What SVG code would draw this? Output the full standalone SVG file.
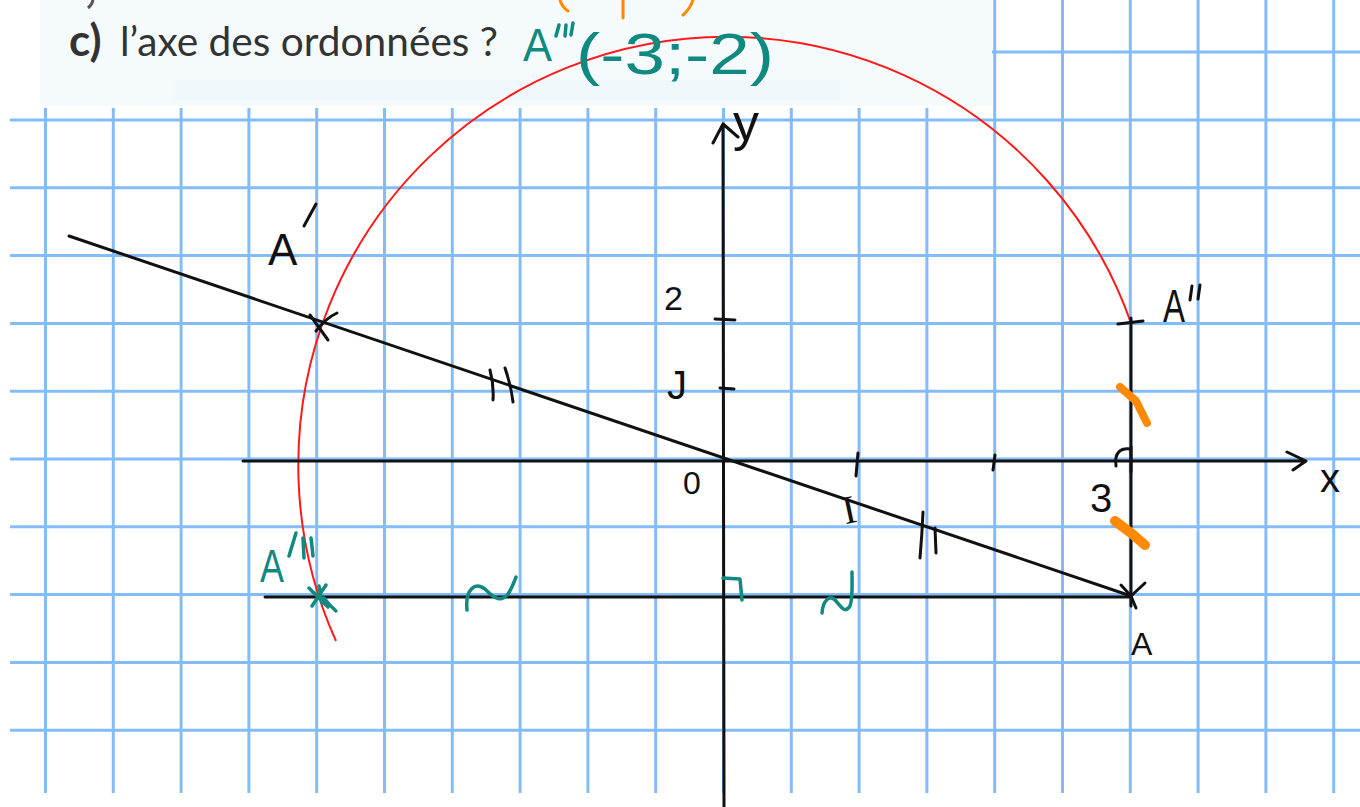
<svg xmlns="http://www.w3.org/2000/svg" width="1360" height="807" viewBox="0 0 1360 807">
<style>
.grid line{stroke:#84bcfa;stroke-width:3}
.ink{fill:none;stroke:#111;stroke-width:3;stroke-linecap:round;stroke-linejoin:round}
.teal{fill:none;stroke:#108a80;stroke-width:3.5;stroke-linecap:round;stroke-linejoin:round}
.orange{fill:none;stroke:#ff8a00;stroke-linecap:round;stroke-linejoin:round}
.hw{font-family:"Liberation Sans",Arial,sans-serif;fill:#111}
.hwt{font-family:"Liberation Sans",Arial,sans-serif;fill:#108a80}
.book{font-family:Lato,"Liberation Sans",sans-serif;fill:#333}
</style>
<rect width="1360" height="807" fill="#ffffff"/>
<g id="header">
<rect x="40" y="0" width="952" height="106" fill="#f5fbfd"/>
<rect x="175" y="80" width="665" height="20" fill="#eef7fa" opacity="0.6"/>
<path d="M93,0 Q92,5 88,8" fill="none" stroke="#555" stroke-width="3"/>
<text class="book" x="69" y="56" font-size="44" font-weight="bold">c)</text>
<text class="book" x="120" y="56" font-size="41" textLength="378" lengthAdjust="spacingAndGlyphs">l’axe des ordonnées ?</text>
</g>
<g class="grid" id="grid">
<line x1="45.5" y1="108" x2="45.5" y2="793"/>
<line x1="113.3" y1="108" x2="113.3" y2="793"/>
<line x1="181.1" y1="108" x2="181.1" y2="793"/>
<line x1="248.9" y1="108" x2="248.9" y2="793"/>
<line x1="316.7" y1="108" x2="316.7" y2="793"/>
<line x1="384.5" y1="108" x2="384.5" y2="793"/>
<line x1="452.3" y1="108" x2="452.3" y2="793"/>
<line x1="520.1" y1="108" x2="520.1" y2="793"/>
<line x1="587.9" y1="108" x2="587.9" y2="793"/>
<line x1="655.7" y1="108" x2="655.7" y2="793"/>
<line x1="723.5" y1="108" x2="723.5" y2="793"/>
<line x1="791.3" y1="108" x2="791.3" y2="793"/>
<line x1="859.1" y1="108" x2="859.1" y2="793"/>
<line x1="926.9" y1="108" x2="926.9" y2="793"/>
<line x1="994.7" y1="0" x2="994.7" y2="793"/>
<line x1="1062.5" y1="0" x2="1062.5" y2="793"/>
<line x1="1130.3" y1="0" x2="1130.3" y2="793"/>
<line x1="1198.1" y1="0" x2="1198.1" y2="793"/>
<line x1="1265.9" y1="0" x2="1265.9" y2="793"/>
<line x1="1333.7" y1="0" x2="1333.7" y2="793"/>
<line x1="992" y1="52" x2="1360" y2="52"/>
<line x1="10" y1="120" x2="1360" y2="120"/>
<line x1="10" y1="187.8" x2="1360" y2="187.8"/>
<line x1="10" y1="255.6" x2="1360" y2="255.6"/>
<line x1="10" y1="323.4" x2="1360" y2="323.4"/>
<line x1="10" y1="391.2" x2="1360" y2="391.2"/>
<line x1="10" y1="459" x2="1360" y2="459"/>
<line x1="10" y1="526.8" x2="1360" y2="526.8"/>
<line x1="10" y1="594.6" x2="1360" y2="594.6"/>
<line x1="10" y1="662.4" x2="1360" y2="662.4"/>
<line x1="10" y1="730.2" x2="1360" y2="730.2"/>
</g>
<g id="connectors">
<path id="arc" d="M1131,323 A428.5,428.5 0 1 0 336,641" fill="none" stroke="#ff1a1a" stroke-width="2"/>
<path class="ink" d="M69,236 L1131,596"/>
<path class="ink" d="M265,597 L1131,597"/>
<path class="ink" d="M1131,318 L1131,606"/>
<path class="ink" d="M243,461 L1306,461 M1287,452 L1306,461 L1293,470"/>
<path class="ink" d="M724,807 L723,124 M713,143 L723,124 L738,137"/>
</g>
<g id="axis-marks">
<path class="ink" d="M715,319 L735,320 M720,388 L734,389 M858,453 L856,476 M995,455 L993,470"/>
<path class="ink" d="M1116,466 C1114,452 1121,448 1130,449 M1131,447 L1131,472" stroke-width="4"/>
<text class="hw" x="664" y="310" font-size="34">2</text>
<text class="hw" x="667" y="399" font-size="40">J</text>
<text class="hw" x="683" y="494" font-size="32">0</text>
<text class="hw" x="1090" y="512" font-size="40">3</text>
<text class="hw" x="1320" y="492" font-size="40">x</text>
<text class="hw" x="733" y="140" font-size="52">y</text>
<text x="842" y="522" font-size="40" font-family="'Liberation Serif',serif" fill="#111" transform="rotate(-12 854 508)">I</text>
</g>
<g id="equal-marks">
<path class="ink" d="M490,370 Q494,385 493,400 M505,368 Q511,385 513,402"/>
<path class="ink" d="M923,512 Q922,535 920,558 M935,528 L936,553"/>
<path class="teal" d="M467,610 C465,590 475,580 486,590 C494,598 501,603 508,594 C512,588 514,582 516,577"/>
<path class="teal" d="M822,613 C823,600 830,594 836,601 C841,607 845,614 850,606 C853,598 852,585 852,572"/>
<path class="teal" d="M723,578 L740,579 L742,600"/>
<path class="orange" stroke-width="8" d="M1120,387 L1136,401 L1147,423"/>
<path class="orange" stroke-width="10" d="M1115,521 L1131,533 L1145,545"/>
</g>
<g id="node-A1">
<path class="ink" d="M310,315 L328,340 M316,331 Q326,318 337,313"/>
<text class="hw" x="268" y="265" font-size="44">A</text>
<path class="ink" d="M316,204 L304,226"/>
</g>
<g id="node-A2">
<path class="ink" d="M1118,324 L1143,321"/>
<text class="hw" x="1163" y="322" font-size="46" textLength="22" lengthAdjust="spacingAndGlyphs">A</text>
<path class="ink" d="M1192,286 L1190,300 M1200,285 L1198,299"/>
</g>
<g id="node-A">
<path class="ink" d="M1121,585 L1131,596 M1145,583 L1131,596 L1136,608"/>
<text class="hw" x="1131" y="655" font-size="32">A</text>
</g>
<g id="node-A3">
<path class="teal" d="M309,588 L328,607 M326,585 L312,606 M319,586 L322,603 M324,598 Q330,606 336,611" stroke-width="4"/>
<text class="hwt" x="260" y="582" font-size="46" textLength="24" lengthAdjust="spacingAndGlyphs">A</text>
<path class="teal" d="M296,533 L289,556 M303,538 L304,558 M311,538 L313,556"/>
</g>
<g id="answer">
<path class="orange" stroke-width="3" d="M560,0 Q562,7 568,11 M623,0 L623,18 M693,0 Q690,9 683,15"/>
<text class="hwt" x="523" y="61" font-size="46" textLength="29" lengthAdjust="spacingAndGlyphs">A</text>
<path class="teal" d="M559,25 L556,36 M566,25 L565,36 M573,23 L571,35"/>
<text class="hwt" x="576" y="74" font-size="58" textLength="198" lengthAdjust="spacingAndGlyphs">(-3;-2)</text>
</g>
</svg>
